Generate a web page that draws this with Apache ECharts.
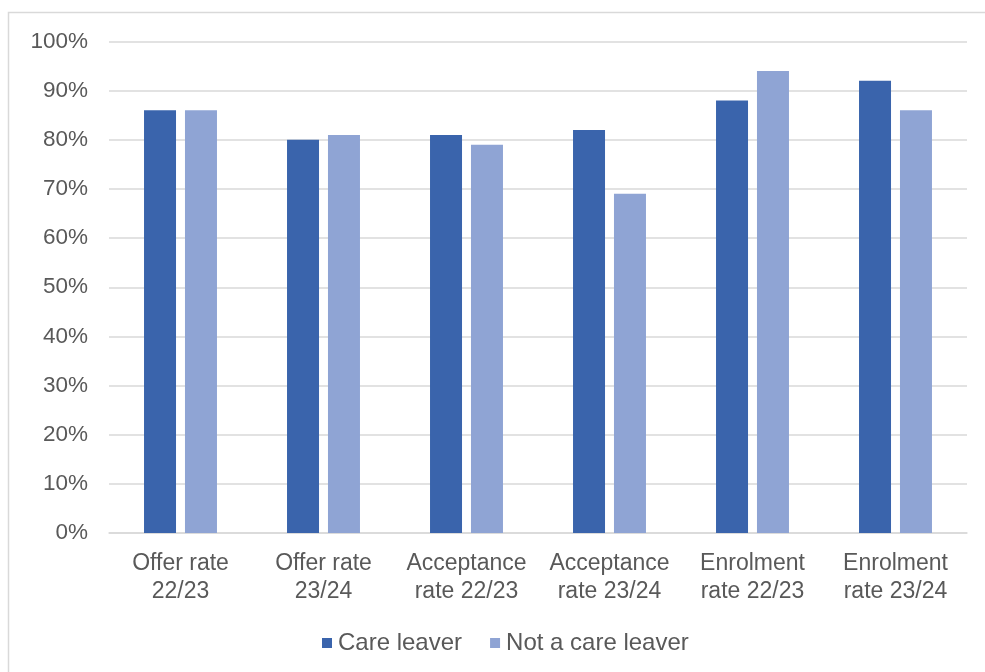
<!DOCTYPE html>
<html>
<head>
    <meta charset="utf-8">
    <script src="https://cdn.jsdelivr.net/npm/echarts@6/dist/echarts.min.js"></script>
    <style>
        html, body { margin: 0; padding: 0; background: #fff; }
    </style>
</head>
<body>
<div id="main" style="width: 985px;height:672px;"></div>
<script>
  // 类别与数据
  var categories = ['Offer rate\n22/23', 'Offer rate\n23/24', 'Acceptance\nrate 22/23', 'Acceptance\nrate 23/24', 'Enrolment\nrate 22/23', 'Enrolment\nrate 23/24'];
  var careLeaver = [86, 80, 81, 82, 88, 92];
  var notCareLeaver = [86, 81, 79, 69, 94, 86];
  var yTicks = [0, 10, 20, 30, 40, 50, 60, 70, 80, 90, 100];

  var textColor = '#595959';
  var font = 'Liberation Sans, Arial, sans-serif';

  var myChart = echarts.init(document.getElementById('main'));
  var option = {
    animation: false,
    textStyle: { fontFamily: font },
    graphic: [{
      type: 'rect',
      shape: { x: 8.5, y: 12.5, width: 1000, height: 700 },
      style: { fill: 'none', stroke: '#D9D9D9', lineWidth: 1.5 },
      silent: true
    }],
    legend: {
      left: 317,
      top: 626,
      icon: 'rect',
      itemWidth: 10,
      itemHeight: 10,
      itemGap: 28,
      textStyle: { color: textColor, fontSize: 24, fontFamily: font, padding: [0, 0, 0, 1] },
      data: ['Care leaver', 'Not a care leaver']
    },
    grid: {
      left: 109,
      right: 18,
      top: 41.5,
      bottom: 139,
      containLabel: false
    },
    xAxis: {
      type: 'category',
      data: categories,
      axisLine: { show: true, lineStyle: { color: '#D9D9D9', width: 1.5 } },
      axisTick: { show: false },
      axisLabel: {
        color: textColor,
        fontSize: 23,
        fontFamily: font,
        lineHeight: 28,
        margin: 17,
        interval: 0
      }
    },
    yAxis: {
      type: 'value',
      min: yTicks[0],
      max: yTicks[yTicks.length - 1],
      interval: 10,
      axisLine: { show: false },
      axisTick: { show: false },
      splitLine: { lineStyle: { color: '#D9D9D9', width: 1.5 } },
      axisLabel: {
        color: textColor,
        fontSize: 22.5,
        fontFamily: font,
        margin: 21,
        padding: [7, 0, 0, 0],
        formatter: '{value}%'
      }
    },
    series: [{
      name: 'Care leaver',
      type: 'bar',
      data: careLeaver,
      barWidth: 32,
      barGap: '28%',
      itemStyle: { color: '#3A64AC' }
    }, {
      name: 'Not a care leaver',
      type: 'bar',
      data: notCareLeaver,
      barWidth: 32,
      itemStyle: { color: '#8FA4D4' }
    }]
  };
  // 显示图表
  myChart.setOption(option);
</script>
</body>
</html>
